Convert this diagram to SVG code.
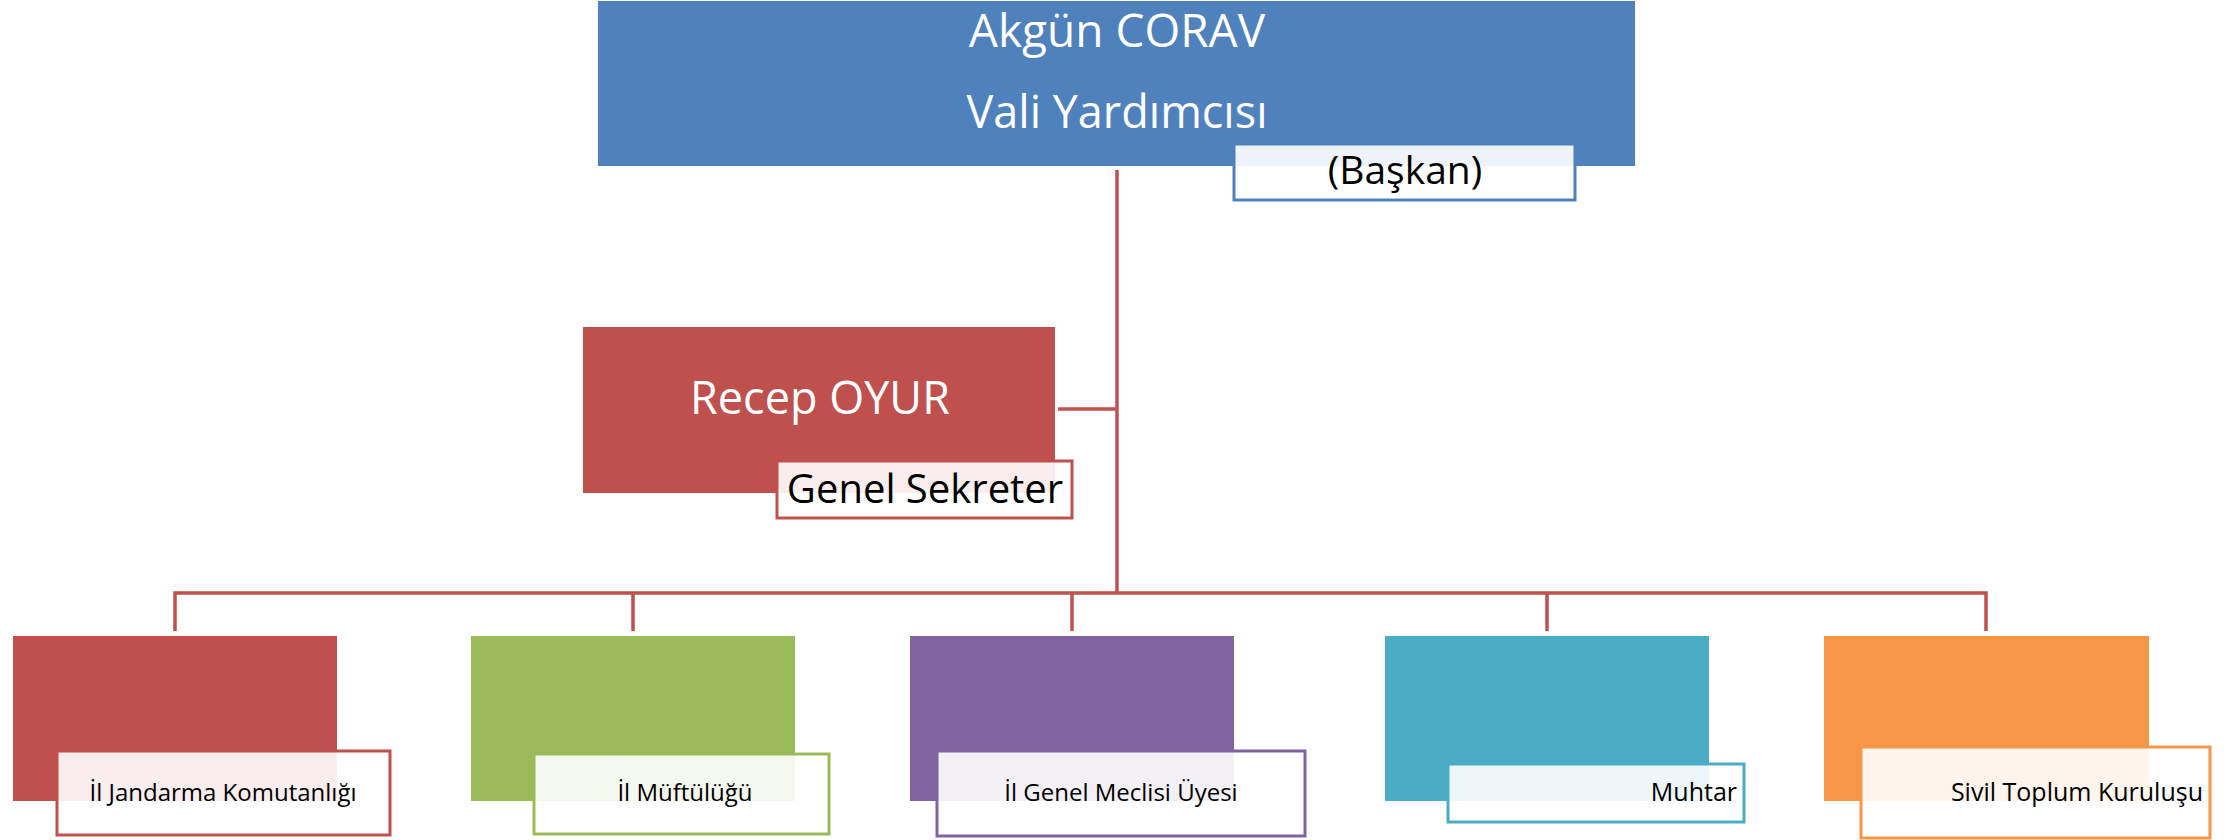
<svg xmlns="http://www.w3.org/2000/svg" width="2230" height="840" viewBox="0 0 2230 840">
<style>
.t{font-family:"Open Sans","Liberation Sans",sans-serif}
.w{fill:#fff}
.k{fill:#000}
.lab{fill:#fff;fill-opacity:0.9;stroke-width:3}
.conn{fill:none;stroke:#C0504D;stroke-width:3.5}
</style>
<rect width="2230" height="840" fill="#fff"/>
<g id="connectors">
<path class="conn" d="M1117 170V593M1058 409H1117M175 631V593H1986V631M633 593V631M1072 593V631M1547 593V631"/>
</g>
<g id="n-baskan">
<rect x="598" y="1" width="1037" height="165" fill="#4F81BD"/>
<text class="t w" x="1117" y="47" font-size="46" text-anchor="middle">Akgün CORAV</text>
<text class="t w" x="1117" y="128" font-size="45" text-anchor="middle">Vali Yardımcısı</text>
<rect class="lab" x="1234" y="144" width="341" height="56" stroke="#4F81BD"/>
<text class="t k" x="1405" y="184" font-size="39" text-anchor="middle">(Başkan)</text>
</g>
<g id="n-sekreter">
<rect x="583" y="327" width="472" height="166" fill="#C0504D"/>
<text class="t w" x="820" y="414" font-size="45" text-anchor="middle">Recep OYUR</text>
<rect class="lab" x="777" y="461" width="295" height="57" stroke="#C0504D"/>
<text class="t k" x="925" y="503" font-size="40" text-anchor="middle">Genel Sekreter</text>
</g>
<g id="n-jandarma">
<rect x="13" y="636" width="324" height="165" fill="#C0504D"/>
<rect class="lab" x="57" y="751" width="333" height="84" stroke="#C0504D"/>
<text class="t k" x="223" y="801" font-size="24" text-anchor="middle">İl Jandarma Komutanlığı</text>
</g>
<g id="n-muftu">
<rect x="471" y="636" width="324" height="165" fill="#9BBB59"/>
<rect class="lab" x="534" y="754" width="295" height="80" stroke="#9BBB59"/>
<text class="t k" x="685" y="801" font-size="24" text-anchor="middle">İl Müftülüğü</text>
</g>
<g id="n-meclis">
<rect x="910" y="636" width="324" height="165" fill="#8064A2"/>
<rect class="lab" x="937" y="751" width="368" height="85" stroke="#8064A2"/>
<text class="t k" x="1121" y="801" font-size="24" text-anchor="middle">İl Genel Meclisi Üyesi</text>
</g>
<g id="n-muhtar">
<rect x="1385" y="636" width="324" height="165" fill="#4BACC6"/>
<rect class="lab" x="1448" y="764" width="296" height="58" stroke="#4BACC6"/>
<text class="t k" x="1737" y="801" font-size="25" text-anchor="end">Muhtar</text>
</g>
<g id="n-stk">
<rect x="1824" y="636" width="325" height="165" fill="#F79646"/>
<rect class="lab" x="1861" y="747" width="349" height="91" stroke="#F79646"/>
<text class="t k" x="2203" y="801" font-size="25" text-anchor="end">Sivil Toplum Kuruluşu</text>
</g>
</svg>
